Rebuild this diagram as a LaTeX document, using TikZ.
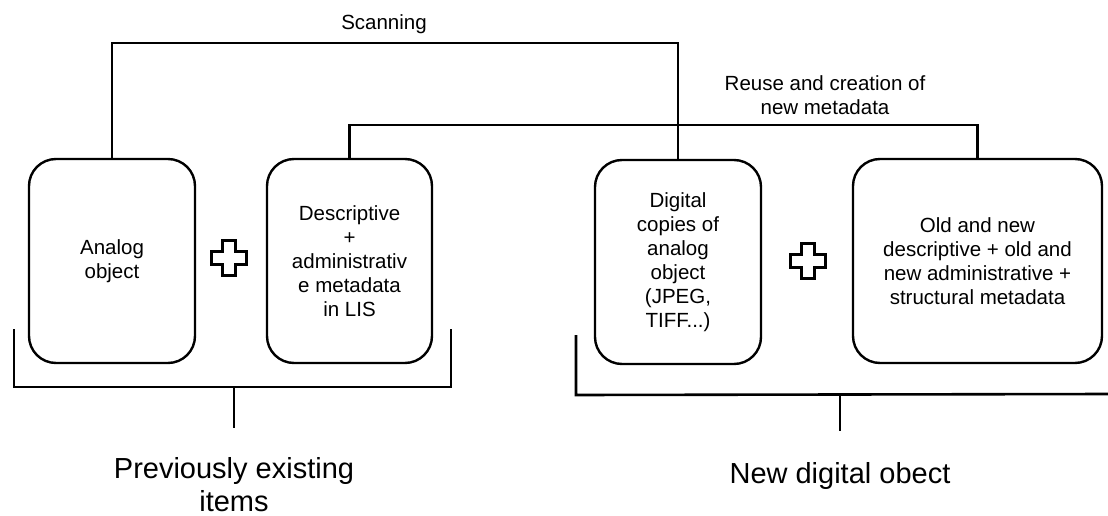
\documentclass[tikz,border=0pt]{standalone}
\usepackage{fontspec}
\setmainfont{Liberation Sans}
\begin{document}
\begin{tikzpicture}[x=1pt,y=-1pt,
  card/.style={draw=black, line width=2.4pt, rounded corners=27pt,
    minimum height=204pt, inner sep=0pt, align=center,
    font=\fontsize{20.5}{24}\selectfont},
  link/.style={draw=black, line width=2.4pt},
  brace/.style={draw=black, line width=2.6pt},
  small/.style={inner sep=0pt, align=center, font=\fontsize{20.5}{24}\selectfont},
  big/.style={inner sep=0pt, align=center, font=\fontsize{29}{33}\selectfont},
  plusmark/.pic={
    \draw[line width=2.8pt, line join=miter]
      (-6.5,-17.5) -- (6.5,-17.5) -- (6.5,-6.5) -- (17.5,-6.5) -- (17.5,6.5)
      -- (6.5,6.5) -- (6.5,17.5) -- (-6.5,17.5) -- (-6.5,6.5) -- (-17.5,6.5)
      -- (-17.5,-6.5) -- (-6.5,-6.5) -- cycle;
  }]
\useasboundingbox (0,0) rectangle (1108,516);

% the four boxes
\node[card, minimum width=166pt] (analog) at (112,261) {Analog\\object};
\node[card, minimum width=165pt] (desc) at (349.5,261)
  {Descriptive\\+\\administrativ\\e metadata\\in LIS};
\node[card, minimum width=166pt] (digital) at (678,262)
  {Digital\\copies of\\analog\\object\\(JPEG,\\TIFF...)};
\node[card, minimum width=249pt] (old) at (977.5,261)
  {Old and new\\descriptive + old and\\new administrative +\\structural metadata};

% plus signs between the boxes
\pic at (229,258) {plusmark};
\pic at (808,261) {plusmark};

% scanning: analog object -> digital copies
\node[small] (scan) at (384,24) {Scanning};
\draw[link] (analog.north) -- (analog.north |- 0,43) -| (digital.north);

% reuse of metadata: LIS metadata -> new metadata
\node[small] (reuse) at (825,95) {Reuse and creation of\\new metadata};
\draw[link] (desc.north) -- (desc.north |- 0,125) -| (old.north);

% bracket under the previously existing items
\coordinate (la) at (14,329);
\coordinate (lb) at (14,387);
\coordinate (lc) at (451,387);
\coordinate (ld) at (451,329);
\coordinate (ls) at (234,387);
\coordinate (le) at (234,428);
\draw[brace] (la) -- (lb) -- (lc) -- (ld);
\draw[brace] (ls) -- (le);
\node[big] (prev) at (234,485) {Previously existing\\items};

% bracket under the new digital object
\coordinate (ra) at (576,335);
\coordinate (rb) at (576,395);
\coordinate (rc) at (1110,394);
\coordinate (rs) at (840,395);
\coordinate (re) at (840,431);
\draw[brace] (ra) -- (rb) -- (rc);
\draw[brace] (rs) -- (re);
\node[big] (newobj) at (840,476) {New digital obect};
\end{tikzpicture}
\end{document}
